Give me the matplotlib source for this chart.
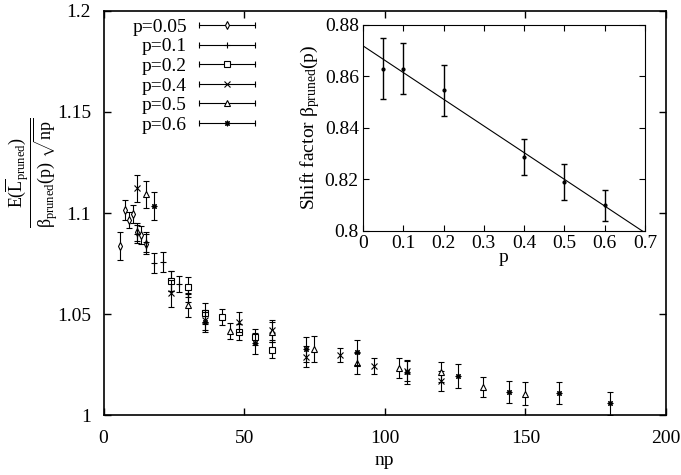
import matplotlib
matplotlib.use("Agg")
import matplotlib.pyplot as plt
from matplotlib.lines import Line2D
from matplotlib.legend_handler import HandlerBase
from matplotlib.ticker import FormatStrFormatter

plt.rcParams.update({
    "font.family": "Liberation Serif",
    "font.size": 14,
    "mathtext.fontset": "custom",
    "mathtext.rm": "Liberation Serif",
    "mathtext.it": "Liberation Serif",
    "mathtext.bf": "Liberation Serif",
    "xtick.direction": "in",
    "ytick.direction": "in",
    "xtick.top": True,
    "ytick.right": True,
})

# main panel: normalised mean pruned length vs np
np_005 = [6, 7.5, 9, 10.5, 12, 13.5, 15]
val_005 = [1.0838, 1.1015, 1.0965, 1.0995, 1.0908, 1.0890, 1.0847]
err_005 = [0.007, 0.005, 0.004, 0.0045, 0.0045, 0.0045, 0.005]

np_01 = [12, 15, 18, 21, 24, 27, 30]
val_01 = [1.0895, 1.0855, 1.0751, 1.0756, 1.0665, 1.0650, 1.0600]
err_01 = [0.0045, 0.005, 0.005, 0.005, 0.005, 0.004, 0.004]

np_02 = [24, 30, 36, 42, 48, 54, 60]
val_02 = [1.0663, 1.0635, 1.0503, 1.0484, 1.0412, 1.0388, 1.0322]
err_02 = [0.005, 0.005, 0.005, 0.004, 0.004, 0.004, 0.004]

np_04 = [12, 24, 36, 48, 60, 72, 84, 96, 108, 120]
val_04 = [1.1122, 1.0602, 1.0470, 1.0462, 1.0420, 1.0290, 1.0297, 1.0244, 1.0220, 1.0170]
err_04 = [0.0066, 0.0065, 0.005, 0.005, 0.005, 0.005, 0.0036, 0.004, 0.005, 0.005]

np_05 = [15, 30, 45, 60, 75, 90, 105, 120, 135, 150]
val_05 = [1.1093, 1.0545, 1.0417, 1.0412, 1.0327, 1.0256, 1.0234, 1.0215, 1.0140, 1.0107]
err_05 = [0.0066, 0.006, 0.004, 0.005, 0.0065, 0.005, 0.005, 0.005, 0.005, 0.0055]

np_06 = [18, 36, 54, 72, 90, 108, 126, 144, 162, 180]
val_06 = [1.1036, 1.0460, 1.0355, 1.0325, 1.0310, 1.0215, 1.0193, 1.0115, 1.0110, 1.0058]
err_06 = [0.0068, 0.005, 0.005, 0.006, 0.006, 0.006, 0.006, 0.0054, 0.0055, 0.0056]

labels = ["p=0.05", "p=0.1", "p=0.2", "p=0.4", "p=0.5", "p=0.6"]
markers = ["d", "+", "s", "x", "^", (8, 2, 0)]

# inset: shift factor vs p, with linear fit
p_vals = [0.05, 0.1, 0.2, 0.4, 0.5, 0.6]
beta_vals = [0.863, 0.863, 0.8545, 0.8285, 0.819, 0.810]
beta_err = [0.012, 0.010, 0.010, 0.007, 0.007, 0.006]
fit_intercept = 0.8718
fit_slope = -0.1036


class HandlerHBar(HandlerBase):
    # gnuplot-like key sample: horizontal bar with end caps, marker in the middle
    def create_artists(self, legend, orig_handle, xdescent, ydescent,
                       width, height, fontsize, trans):
        y = height / 2 - ydescent
        x0, x1 = -xdescent, width - xdescent
        line = Line2D([x0, x1], [y, y], color="k", lw=0.8, transform=trans)
        caps = Line2D([x0, x1], [y, y], ls="none", marker="|", ms=5,
                      mew=0.8, color="k", transform=trans)
        mk = Line2D([(x0 + x1) / 2], [y], ls="none",
                    marker=orig_handle.get_marker(), ms=4, mew=0.8,
                    mfc="white", mec="k", transform=trans)
        return [line, caps, mk]


fig = plt.figure(figsize=(6.81, 4.75), dpi=100)
ax = fig.add_axes([0.152, 0.126, 0.826, 0.851])

series = [
    (np_005, val_005, err_005),
    (np_01, val_01, err_01),
    (np_02, val_02, err_02),
    (np_04, val_04, err_04),
    (np_05, val_05, err_05),
    (np_06, val_06, err_06),
]
handles = []
for (x, y, e), lab, m in zip(series, labels, markers):
    ax.errorbar(x, y, yerr=e, fmt="none", ecolor="k", elinewidth=0.8,
                capsize=2.5, capthick=0.8)
    ax.plot(x, y, ls="none", marker=m, ms=4, mew=0.8, mfc="white", mec="k")
    handles.append(Line2D([], [], marker=m, ls="none", color="k", label=lab))

ax.set_xlim(0, 200)
ax.set_ylim(1.0, 1.2)
ax.set_xticks([0, 50, 100, 150, 200])
ax.set_yticks([1.0, 1.05, 1.1, 1.15, 1.2])
ax.yaxis.set_major_formatter(FormatStrFormatter("%g"))
ax.tick_params(length=5, width=1)
ax.tick_params(axis="x", pad=11)
ax.tick_params(axis="y", pad=9)
for s in ax.spines.values():
    s.set_linewidth(1.2)

ax.set_xlabel("np")
ax.xaxis.set_label_coords(0.5, -0.09)
ax.set_ylabel(r"$\dfrac{\mathrm{E}(\overline{\mathrm{L}}_{\mathrm{pruned}})}"
              r"{\beta_{\mathrm{pruned}}(\mathrm{p})\ \sqrt{\mathrm{np}}}$",
              fontsize=13)
ax.yaxis.set_label_coords(-0.077, 0.6)

leg = ax.legend(handles=handles, loc="upper left", bbox_to_anchor=(0.02, 1.025),
                frameon=False, markerfirst=False, handlelength=2.9,
                handletextpad=0.6, labelspacing=0.1, borderpad=0.4,
                handler_map={Line2D: HandlerHBar()})

# inset
ins = fig.add_axes([0.533, 0.514, 0.414, 0.434])
ins.errorbar(p_vals, beta_vals, yerr=beta_err, fmt="o", ms=2, color="k",
             elinewidth=1, capsize=2.5, capthick=1)
fit_x = [0, 0.7]
fit_y = [fit_intercept + fit_slope * v for v in fit_x]
ins.plot(fit_x, fit_y, color="k", lw=0.8)
ins.set_xlim(0, 0.7)
ins.set_ylim(0.8, 0.88)
ins.set_xticks([0, 0.1, 0.2, 0.3, 0.4, 0.5, 0.6, 0.7])
ins.set_yticks([0.8, 0.82, 0.84, 0.86, 0.88])
ins.xaxis.set_major_formatter(FormatStrFormatter("%g"))
ins.yaxis.set_major_formatter(FormatStrFormatter("%g"))
ins.tick_params(length=4, width=0.8, pad=3)
ins.set_xlabel("p", labelpad=-2)
ins.set_ylabel(r"Shift factor $\beta_{\mathrm{pruned}}(\mathrm{p})$", labelpad=2)

fig.savefig("out.png", dpi=100)
